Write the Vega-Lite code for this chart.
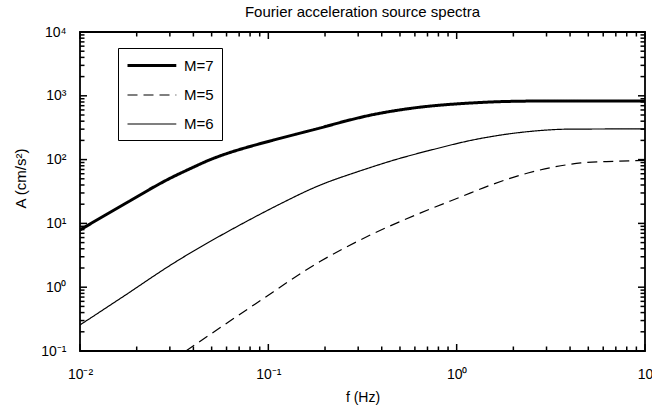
{
  "$schema": "https://vega.github.io/schema/vega-lite/v6.json",
  "width": 565,
  "height": 319,
  "autosize": "none",
  "padding": {"left": 80, "top": 32, "right": 7, "bottom": 63},
  "background": "white",
  "title": {"text": "Fourier acceleration source spectra", "fontSize": 15, "font": "Liberation Sans", "fontWeight": "normal", "color": "black", "offset": 5, "anchor": "middle"},
  "datasets": {
    "curves": [
      {"M": "M=7", "f": 0.01, "A": 7.9},
      {"M": "M=7", "f": 0.0174, "A": 20.5},
      {"M": "M=7", "f": 0.0301, "A": 51},
      {"M": "M=7", "f": 0.04, "A": 76},
      {"M": "M=7", "f": 0.048, "A": 97},
      {"M": "M=7", "f": 0.06, "A": 124},
      {"M": "M=7", "f": 0.0755, "A": 153},
      {"M": "M=7", "f": 0.09, "A": 177},
      {"M": "M=7", "f": 0.109, "A": 206},
      {"M": "M=7", "f": 0.14, "A": 250},
      {"M": "M=7", "f": 0.189, "A": 314},
      {"M": "M=7", "f": 0.26, "A": 405},
      {"M": "M=7", "f": 0.349, "A": 498},
      {"M": "M=7", "f": 0.48, "A": 590},
      {"M": "M=7", "f": 0.644, "A": 665},
      {"M": "M=7", "f": 0.9, "A": 730},
      {"M": "M=7", "f": 1.19, "A": 771},
      {"M": "M=7", "f": 1.6, "A": 805},
      {"M": "M=7", "f": 2.2, "A": 823},
      {"M": "M=7", "f": 3, "A": 830},
      {"M": "M=7", "f": 5, "A": 832},
      {"M": "M=7", "f": 10, "A": 832},
      {"M": "M=5", "f": 0.0365, "A": 0.1},
      {"M": "M=5", "f": 0.0853, "A": 0.546},
      {"M": "M=5", "f": 0.189, "A": 2.55},
      {"M": "M=5", "f": 0.349, "A": 6.6},
      {"M": "M=5", "f": 0.644, "A": 14.6},
      {"M": "M=5", "f": 1.05, "A": 26},
      {"M": "M=5", "f": 1.57, "A": 41.5},
      {"M": "M=5", "f": 2.39, "A": 61.6},
      {"M": "M=5", "f": 3.57, "A": 80},
      {"M": "M=5", "f": 4.57, "A": 88.6},
      {"M": "M=5", "f": 7, "A": 94},
      {"M": "M=5", "f": 10, "A": 97},
      {"M": "M=6", "f": 0.01, "A": 0.256},
      {"M": "M=6", "f": 0.0174, "A": 0.75},
      {"M": "M=6", "f": 0.0301, "A": 2.2},
      {"M": "M=6", "f": 0.0755, "A": 10.5},
      {"M": "M=6", "f": 0.109, "A": 18.5},
      {"M": "M=6", "f": 0.189, "A": 40},
      {"M": "M=6", "f": 0.3, "A": 65},
      {"M": "M=6", "f": 0.474, "A": 100},
      {"M": "M=6", "f": 0.75, "A": 144},
      {"M": "M=6", "f": 1.19, "A": 200},
      {"M": "M=6", "f": 2.57, "A": 280},
      {"M": "M=6", "f": 3.9, "A": 300},
      {"M": "M=6", "f": 10, "A": 303}
    ],
    "xticks": [
      {"v": 0.01}, {"v": 0.02}, {"v": 0.03}, {"v": 0.04}, {"v": 0.05}, {"v": 0.06}, {"v": 0.07}, {"v": 0.08}, {"v": 0.09},
      {"v": 0.1}, {"v": 0.2}, {"v": 0.3}, {"v": 0.4}, {"v": 0.5}, {"v": 0.6}, {"v": 0.7}, {"v": 0.8}, {"v": 0.9},
      {"v": 1}, {"v": 2}, {"v": 3}, {"v": 4}, {"v": 5}, {"v": 6}, {"v": 7}, {"v": 8}, {"v": 9}, {"v": 10}
    ],
    "yticks": [
      {"v": 0.1}, {"v": 0.2}, {"v": 0.3}, {"v": 0.4}, {"v": 0.5}, {"v": 0.6}, {"v": 0.7}, {"v": 0.8}, {"v": 0.9},
      {"v": 1}, {"v": 2}, {"v": 3}, {"v": 4}, {"v": 5}, {"v": 6}, {"v": 7}, {"v": 8}, {"v": 9},
      {"v": 10}, {"v": 20}, {"v": 30}, {"v": 40}, {"v": 50}, {"v": 60}, {"v": 70}, {"v": 80}, {"v": 90},
      {"v": 100}, {"v": 200}, {"v": 300}, {"v": 400}, {"v": 500}, {"v": 600}, {"v": 700}, {"v": 800}, {"v": 900},
      {"v": 1000}, {"v": 2000}, {"v": 3000}, {"v": 4000}, {"v": 5000}, {"v": 6000}, {"v": 7000}, {"v": 8000}, {"v": 9000},
      {"v": 10000}
    ]
  },
  "layer": [
    {
      "data": {"name": "curves"},
      "mark": {"type": "line", "color": "black", "interpolate": "monotone", "clip": true},
      "encoding": {
        "x": {
          "field": "f", "type": "quantitative",
          "scale": {"type": "log", "domain": [0.01, 10]},
          "axis": {
            "orient": "bottom", "title": "f (Hz)", "titleFontSize": 14, "titlePadding": 9,
            "labelFontSize": 14, "labelPadding": 16, "ticks": false, "domain": false,
            "values": [0.01, 0.1, 1, 10],
            "labelExpr": "round(log(datum.value)/LN10) == -2 ? '10⁻²' : round(log(datum.value)/LN10) == -1 ? '10⁻¹' : round(log(datum.value)/LN10) == 0 ? '10⁰' : '10'"
          }
        },
        "y": {
          "field": "A", "type": "quantitative",
          "scale": {"type": "log", "domain": [0.1, 10000]},
          "axis": {
            "orient": "left", "title": "A (cm/s²)", "titleFontSize": 15, "titlePadding": 12, "titleY": 146,
            "labelFontSize": 14, "labelPadding": 14, "labelBaseline": "middle", "ticks": false, "domain": false,
            "values": [0.1, 1, 10, 100, 1000, 10000],
            "labelExpr": "round(log(datum.value)/LN10) == -1 ? '10⁻¹' : round(log(datum.value)/LN10) == 0 ? '10⁰' : round(log(datum.value)/LN10) == 1 ? '10¹' : round(log(datum.value)/LN10) == 2 ? '10²' : round(log(datum.value)/LN10) == 3 ? '10³' : '10⁴'"
          }
        },
        "strokeDash": {
          "field": "M", "type": "nominal",
          "scale": {"domain": ["M=7", "M=5", "M=6"], "range": [[1, 0], [10, 6], [1, 0]]},
          "legend": {"title": null}
        },
        "strokeWidth": {
          "field": "M", "type": "nominal",
          "scale": {"type": "ordinal", "domain": ["M=7", "M=5", "M=6"], "range": [3, 1.2, 1.2]},
          "legend": {"title": null}
        }
      }
    },
    {
      "data": {"name": "xticks"},
      "mark": {"type": "point", "shape": "M0,0V-1", "filled": false, "color": "black", "strokeWidth": 1.5, "opacity": 1},
      "encoding": {
        "x": {"field": "v", "type": "quantitative"},
        "y": {"datum": 0.1, "type": "quantitative"},
        "size": {"condition": {"test": "abs(log(datum.v)/LN10 - round(log(datum.v)/LN10)) < 1e-6", "value": 196}, "value": 81}
      }
    },
    {
      "data": {"name": "xticks"},
      "mark": {"type": "point", "shape": "M0,0V1", "filled": false, "color": "black", "strokeWidth": 1.5, "opacity": 1},
      "encoding": {
        "x": {"field": "v", "type": "quantitative"},
        "y": {"datum": 10000, "type": "quantitative"},
        "size": {"condition": {"test": "abs(log(datum.v)/LN10 - round(log(datum.v)/LN10)) < 1e-6", "value": 196}, "value": 81}
      }
    },
    {
      "data": {"name": "yticks"},
      "mark": {"type": "point", "shape": "M0,0H1", "filled": false, "color": "black", "strokeWidth": 1.5, "opacity": 1},
      "encoding": {
        "y": {"field": "v", "type": "quantitative"},
        "x": {"datum": 0.01, "type": "quantitative"},
        "size": {"condition": {"test": "abs(log(datum.v)/LN10 - round(log(datum.v)/LN10)) < 1e-6", "value": 196}, "value": 81}
      }
    },
    {
      "data": {"name": "yticks"},
      "mark": {"type": "point", "shape": "M0,0H-1", "filled": false, "color": "black", "strokeWidth": 1.5, "opacity": 1},
      "encoding": {
        "y": {"field": "v", "type": "quantitative"},
        "x": {"datum": 10, "type": "quantitative"},
        "size": {"condition": {"test": "abs(log(datum.v)/LN10 - round(log(datum.v)/LN10)) < 1e-6", "value": 196}, "value": 81}
      }
    }
  ],
  "config": {
    "view": {"stroke": "black", "strokeWidth": 1.8},
    "font": "Liberation Sans",
    "axis": {"grid": false, "domainColor": "black", "tickColor": "black", "labelColor": "black", "titleColor": "black", "labelFont": "Liberation Sans", "titleFont": "Liberation Sans", "titleFontWeight": "normal", "labelFlush": false, "labelOverlap": false},
    "legend": {
      "orient": "none", "legendX": 38, "legendY": 16,
      "strokeColor": "black", "fillColor": "white", "padding": 8,
      "symbolType": "M-1,0H5.1", "symbolSize": 256, "symbolStrokeColor": "black",
      "labelFontSize": 15, "labelFont": "Liberation Sans", "labelColor": "black", "labelOffset": 39, "rowPadding": 12
    }
  }
}
